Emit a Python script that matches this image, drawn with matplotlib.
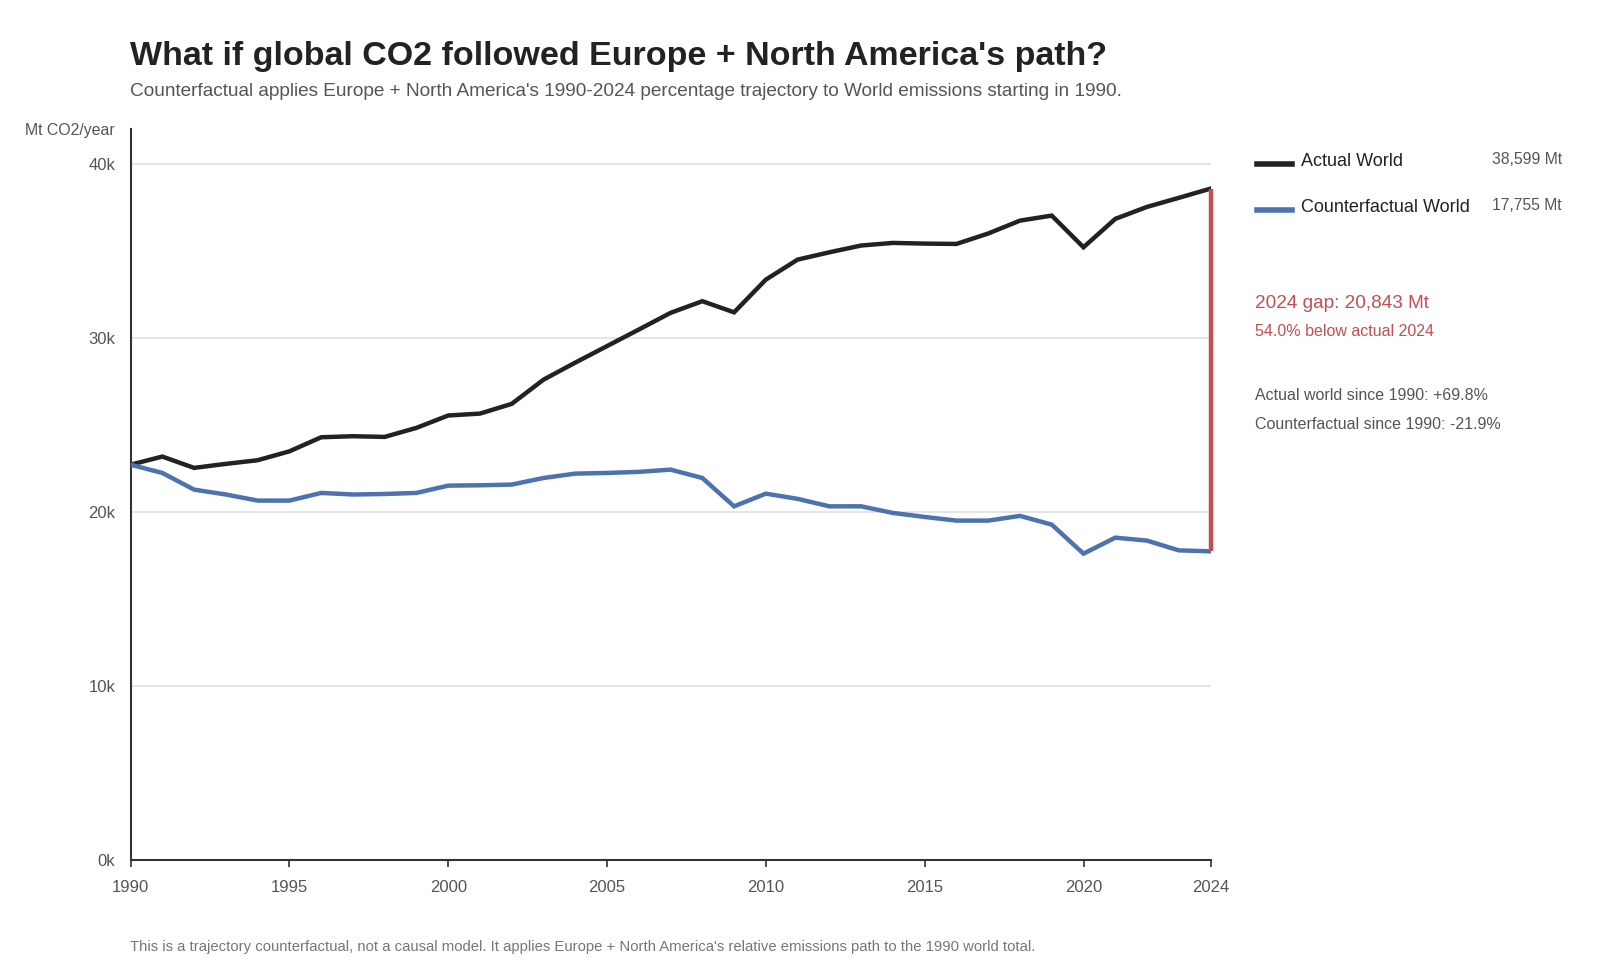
import matplotlib
matplotlib.use("Agg")
import matplotlib.pyplot as plt
from matplotlib.ticker import FuncFormatter

plt.rcParams['font.family'] = ['Liberation Sans', 'DejaVu Sans']

years = list(range(1990, 2025))
actual_world = [22733, 23200, 22550, 22780, 22990, 23500, 24310, 24370, 24330, 24850,
                25560, 25670, 26230, 27620, 28600, 29550, 30500, 31460, 32130, 31490,
                33370, 34520, 34940, 35330, 35480, 35440, 35420, 36020, 36760, 37050,
                35230, 36860, 37550, 38070, 38599]
counterfactual_world = [22733, 22260, 21300, 21020, 20670, 20670, 21110, 21020, 21050, 21110,
                        21530, 21550, 21590, 21970, 22220, 22260, 22320, 22450, 21970, 20340,
                        21070, 20770, 20340, 20340, 19960, 19730, 19520, 19520, 19790, 19290,
                        17620, 18540, 18370, 17810, 17755]
series_names = ["Actual World", "Counterfactual World"]
end_labels = ["38,599 Mt", "17,755 Mt"]
x_ticks = [1990, 1995, 2000, 2005, 2010, 2015, 2020, 2024]
y_ticks = [0, 10000, 20000, 30000, 40000]

C_BLACK = "#222222"
C_BLUE = "#4C72B0"
C_RED = "#C44E52"
C_GREY = "#555555"

fig = plt.figure(figsize=(16, 9.8), dpi=100)
ax = fig.add_axes([0.0816, 0.1222, 0.6750, 0.7457])

ax.plot(years, actual_world, color=C_BLACK, lw=3.2, solid_joinstyle='miter', zorder=3)
ax.plot(years, counterfactual_world, color=C_BLUE, lw=3.2, solid_joinstyle='miter', zorder=3)
ax.vlines(years[-1], counterfactual_world[-1], actual_world[-1], color=C_RED, lw=3.2,
          zorder=4, clip_on=False)

ax.set_xlim(1990, 2024)
ax.set_ylim(0, 42000)
ax.set_xticks(x_ticks)
ax.set_yticks(y_ticks)
ax.yaxis.set_major_formatter(FuncFormatter(lambda v, p: f"{int(v/1000)}k"))
for y in y_ticks[1:]:
    ax.axhline(y, color="#e3e3e3", lw=1.3, zorder=1)

for s in ["top", "right"]:
    ax.spines[s].set_visible(False)
for s in ["left", "bottom"]:
    ax.spines[s].set_color("#333333")
    ax.spines[s].set_linewidth(1.5)
ax.tick_params(axis='x', direction='out', length=5, width=1.2, color="#333333",
               labelsize=12, labelcolor=C_GREY, pad=9.5)
ax.tick_params(axis='y', length=0, labelsize=12, labelcolor=C_GREY, pad=11)

fig.text(115 / 1600, 1 - 131 / 980, "Mt CO2/year", ha='right', va='center',
         fontsize=11.4, color=C_GREY)

fig.text(130 / 1600, 1 - 57 / 980, "What if global CO2 followed Europe + North America's path?",
         ha='left', va='center', fontsize=24.5, fontweight='bold', color=C_BLACK)
fig.text(130 / 1600, 1 - 91.5 / 980,
         "Counterfactual applies Europe + North America's 1990-2024 percentage trajectory to World emissions starting in 1990.",
         ha='left', va='center', fontsize=13.7, color=C_GREY)
fig.text(130 / 1600, 1 - 947 / 980,
         "This is a trajectory counterfactual, not a causal model. It applies Europe + North America's relative emissions path to the 1990 world total.",
         ha='left', va='center', fontsize=10.7, color="#777777")

# legend
for i, (name, col, val) in enumerate(zip(series_names, [C_BLACK, C_BLUE], end_labels)):
    yl = 1 - (164 + 46 * i) / 980
    fig.add_artist(plt.Line2D([1257 / 1600, 1292 / 1600], [yl, yl], color=col, lw=4.0,
                              transform=fig.transFigure))
    fig.text(1301 / 1600, yl + 0.003, name, ha='left', va='center', fontsize=13, color=C_BLACK)
    fig.text(1562 / 1600, yl + 0.0045, val, ha='right', va='center', fontsize=11.3, color=C_GREY)

fig.text(1255 / 1600, 1 - 304 / 980, "2024 gap: 20,843 Mt", ha='left', va='center',
         fontsize=13.7, color=C_RED)
fig.text(1255 / 1600, 1 - 331 / 980, "54.0% below actual 2024", ha='left', va='center',
         fontsize=11.5, color=C_RED)
fig.text(1255 / 1600, 1 - 395 / 980, "Actual world since 1990: +69.8%", ha='left', va='center',
         fontsize=11.5, color=C_GREY)
fig.text(1255 / 1600, 1 - 424.5 / 980, "Counterfactual since 1990: -21.9%", ha='left', va='center',
         fontsize=11.5, color=C_GREY)

fig.savefig("out.png", dpi=100, facecolor="white")
